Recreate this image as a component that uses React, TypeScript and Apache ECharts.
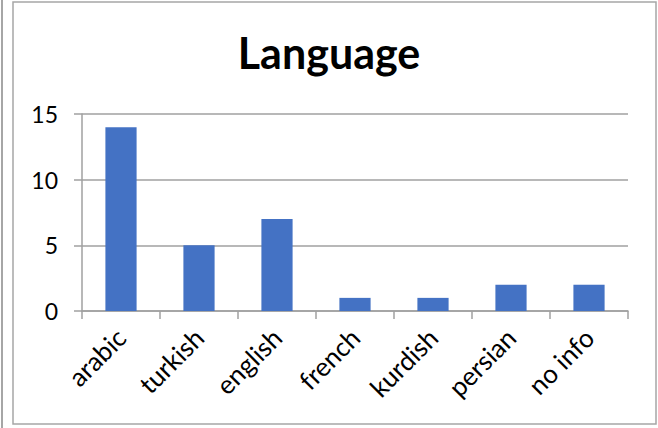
import React, { useEffect, useRef } from "react";
import * as echarts from "echarts";

const categories = ["arabic", "turkish", "english", "french", "kurdish", "persian", "no info"];
const counts = [14, 5, 7, 1, 1, 2, 2];
const titleText = "Language";

export default function App() {
  const ref = useRef<HTMLDivElement>(null);
  useEffect(() => {
    if (!ref.current) return;
    const chart = echarts.init(ref.current, null, { renderer: "svg" });
    const font = "Lato, 'Open Sans', sans-serif";
    chart.setOption({
      animation: false,
      backgroundColor: "#ffffff",
      title: {
        text: titleText,
        left: "center",
        top: 26,
        textStyle: { fontFamily: font, fontSize: 43, fontWeight: "bold", color: "#000000" },
      },
      graphic: [
        { type: "line", shape: { x1: 2, y1: 0, x2: 2, y2: 428 }, style: { stroke: "#a6a6a6", lineWidth: 2 } },
        {
          type: "rect",
          shape: { x: 13, y: 2, width: 643, height: 422 },
          style: { fill: "none", stroke: "#a6a6a6", lineWidth: 1.5 },
        },
      ],
      grid: { left: 82, right: 30, top: 114, bottom: 117, containLabel: false },
      xAxis: {
        type: "category",
        data: categories,
        axisLine: { show: true, lineStyle: { color: "#a0a0a0", width: 1.5 } },
        axisTick: { show: true, length: 8, lineStyle: { color: "#a0a0a0", width: 1.5 } },
        axisLabel: { rotate: 45, margin: 22, fontFamily: font, fontSize: 26, color: "#000000" },
      },
      yAxis: {
        type: "value",
        min: 0,
        max: 15,
        interval: 5,
        axisLine: { show: true, lineStyle: { color: "#a0a0a0", width: 1.5 } },
        axisTick: { show: true, length: 8, lineStyle: { color: "#a0a0a0", width: 1.5 } },
        splitLine: { show: true, lineStyle: { color: "#a0a0a0", width: 1.5 } },
        axisLabel: { margin: 24, fontFamily: font, fontSize: 23, color: "#000000" },
      },
      series: [
        {
          type: "bar",
          data: counts,
          barWidth: "40%",
          itemStyle: { color: "#4472C4" },
        },
      ],
    });
    return () => chart.dispose();
  }, []);
  return (
    <div style={{ position: "fixed", left: 0, top: 0, width: 658, height: 428, background: "#fff" }}>
      <div ref={ref} style={{ width: 658, height: 428 }} />
    </div>
  );
}
